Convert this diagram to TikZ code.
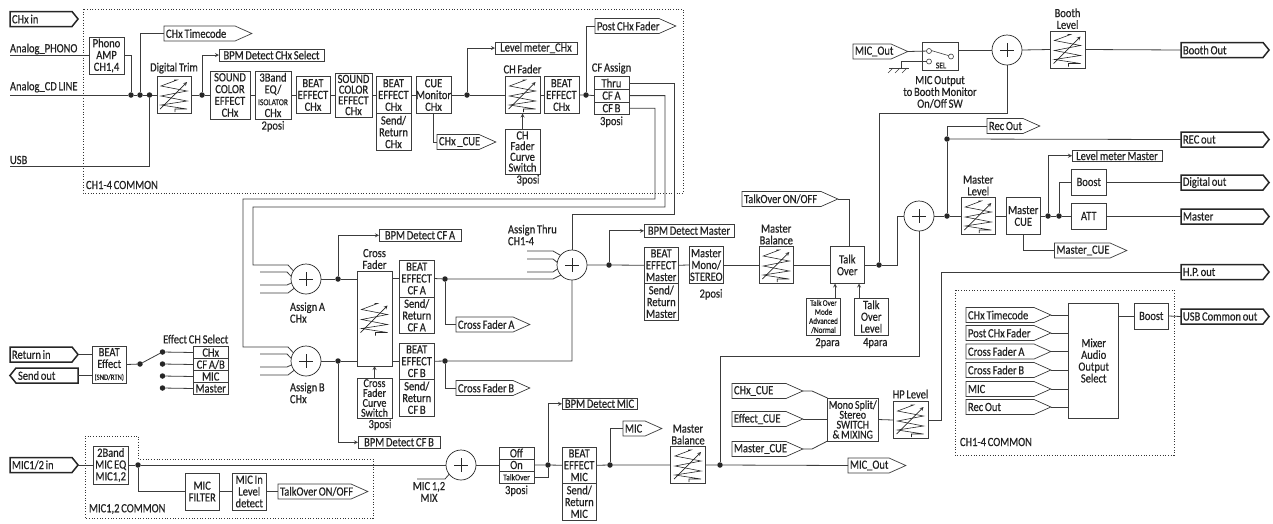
\documentclass[tikz,border=0pt]{standalone}
\usepackage{fontspec}
\setmainfont{Carlito}[FakeStretch=0.84,FakeBold=0.5,WordSpace=0.75]
\usetikzlibrary{positioning,shapes.symbols}
\definecolor{linecol}{HTML}{3C3C3C}
\definecolor{textcol}{HTML}{222222}
\newcommand{\smalltxt}{\fontsize{9}{9.2}\selectfont}
\newcommand{\tightfont}{\fontsize{12.5}{10.7}\selectfont}
\newcommand{\tighterfont}{\fontsize{12}{9.9}\selectfont}
\newcommand{\minifont}{\fontsize{8.6}{9}\selectfont}

\begin{document}
\begin{tikzpicture}[x=1pt,y=-1pt,
every node/.style={font=\fontsize{12.5}{11.8}\selectfont, text=textcol, inner sep=0pt, outer sep=0pt, align=center},
blockbox/.style={rectangle, draw=linecol, line width=0.8pt, anchor=north west},
wh/.style 2 args={minimum width=#1pt, minimum height=#2pt},
noflow/.style={execute at begin node={\spaceskip=0pt\relax\xspaceskip=0pt\relax\hbox to 0pt\bgroup}, execute at end node={\hss\egroup}},
tagout/.style={signal, signal to=east, signal from=nowhere, signal pointer angle=48, draw=linecol, line width=0.7pt, anchor=west, minimum height=15pt, inner xsep=2pt, align=left, text width=#1pt-21pt, noflow},
tagbold/.style={signal, signal to=east, signal from=nowhere, signal pointer angle=102, draw=black!85, line width=1.5pt, anchor=west, minimum height=15pt, inner xsep=2pt, align=left, text width=#1pt-10pt, noflow},
tagback/.style={signal, signal to=west, signal from=nowhere, signal pointer angle=102, draw=black!85, line width=1.5pt, anchor=east, minimum height=15pt, inner xsep=2pt, align=left, text width=#1pt-10pt, noflow},
junct/.style={circle, fill=black!85, minimum size=5.5pt},
contact/.style={circle, draw=linecol, line width=0.6pt, fill=white, minimum size=5pt},
sumnode/.style={circle, draw=black!85, line width=0.7pt, minimum size=30pt, path picture={
  \draw[line width=0.7pt, black!85] (path picture bounding box.center) ++(-7,0) -- ++(14,0) ++(-7,-7) -- ++(0,14);}},
wire/.style={draw=linecol, line width=0.8pt},
wirearrow/.style={draw=linecol, line width=0.8pt, -stealth},
dotbox/.style={draw=black!80, line width=0.7pt, dotted},
pics/fadersym/.style={code={
  \draw[black!85, line width=0.6pt] (0,-15) -- (3,-15) -- (-13,-9) -- (13,-4) -- (-13,1) -- (13,6) -- (-13,10) -- (13,14) -- (1,14) -- (1,17);
  \draw[black!85, line width=0.7pt, -stealth] (-14,14) -- (13,-13);
}}
]
\useasboundingbox (0,0) rectangle (1273,523);

%Common areas
\draw[dotbox] (83,9) rectangle (683,193);
\draw[dotbox] (955,290) rectangle (1174,455);
\draw[dotbox] (85,436) -- (138.5,436) -- (138.5,459) -- (373,459) -- (373,518) -- (85,518) -- cycle;
\node[anchor=west] (commona) at (86,185) {CH1-4 COMMON};
\node[anchor=west] (commonb) at (960,442) {CH1-4 COMMON};
\node[anchor=west] (commonc) at (89,509) {MIC1,2 COMMON};

%Channel strip
\node[tagbold=68] (chin) at (10,19) {CHx in};
\node[anchor=west] (phonotxt) at (10,49) {Analog\_PHONO};
\node[anchor=west] (cdtxt) at (10,87) {Analog\_CD LINE};
\node[anchor=west] (usbtxt) at (10,160) {USB};
\coordinate (phonostart) at (10,55.5);
\coordinate (cdstart) at (10,95);
\coordinate (usbstart) at (10,166);
\node[blockbox, wh={35}{37}] (phono) at (89,37) {Phono\\AMP\\CH1,4};
\node[junct] (dota) at (131,95) {};
\node[junct] (dotb) at (140,95) {};
\node[junct] (dotc) at (149.5,95) {};
\node[tagout=88] (tctag) at (164,33.5) {CHx Timecode};
\node[blockbox, wh={34}{37}] (trim) at (157,76.5) {};
\pic at (trim.center) {fadersym};
\node[above=3pt of trim] (trimtxt) {Digital Trim};
\node[junct] (dotd) at (202,95) {};
\node[blockbox, wh={105}{12}] (bpmsel) at (219,49) {BPM Detect CHx Select};
\node[blockbox, wh={40}{48}] (colora) at (210,71) {SOUND\\COLOR\\EFFECT\\CHx};
\node[blockbox, wh={36}{48}] (eq) at (255,71) {3Band\\EQ/\\{\smalltxt ISOLATOR}\\CHx};
\node[below=2pt of eq] (eqpos) {2posi};
\node[blockbox, wh={34}{37}] (beata) at (296,76.5) {BEAT\\EFFECT\\CHx};
\node[blockbox, wh={37}{44}, font=\tightfont] (colorb) at (335,73) {SOUND\\COLOR\\EFFECT\\CHx};
\node[blockbox, wh={35}{37}] (beatb) at (376,76.5) {BEAT\\EFFECT\\CHx};
\node[blockbox, wh={35}{37}, below=0pt of beatb] (sendb) {Send/\\Return\\CHx};
\node[blockbox, wh={34}{37}] (cue) at (416,76.5) {CUE\\Monitor\\CHx};
\node[junct] (dote) at (467,95) {};
\node[blockbox, wh={82}{12}] (meter) at (495,42) {Level meter\_CHx};
\node[tagout=59] (cuetag) at (437,142) {CHx \_CUE};
\node[blockbox, wh={35}{37}] (chfader) at (505,76.5) {};
\pic at (chfader.center) {fadersym};
\node[above=3pt of chfader] (chfadertxt) {CH Fader};
\node[blockbox, wh={35}{45}, font=\tightfont] (chcurve) at (505,129) {CH\\Fader\\Curve\\Switch};
\node[anchor=north] (chcurvepos) at (528,175) {3posi};
\node[blockbox, wh={35}{37}] (beatc) at (544,76.5) {BEAT\\EFFECT\\CHx};
\node[junct] (dotf) at (586,95) {};
\node[tagout=81] (posttag) at (595,26) {Post CHx Fader};
\node[blockbox, wh={35}{12.6}] (cfthru) at (594,76.7) {Thru};
\node[blockbox, wh={35}{12.6}, below=0pt of cfthru] (cfa) {CF A};
\node[blockbox, wh={35}{12.6}, below=0pt of cfa] (cfb) {CF B};
\node[above=3pt of cfthru] (cftxt) {CF Assign};
\node[below=2pt of cfb] (cfpos) {3posi};

\draw[wire] (phonostart) -- (phono.west);
\draw[wire] (phono.east) -| (dota);
\draw[wire] (cdstart) -- (dota) -- (dotb) -- (dotc) -- (trim.west);
\draw[wire] (dotb) |- (tctag.west);
\draw[wire] (usbstart) -| (dotc);
\draw[wire] (trim.east) -- (dotd) -- (colora.west);
\draw[wirearrow] (dotd) |- (bpmsel.west);
\draw[wire] (colora.east) -- (eq.west);
\draw[wire] (eq.east) -- (beata.west);
\draw[wire] (beata.east) -- (colorb.west);
\draw[wire] (colorb.east) -- (beatb.west);
\draw[wire] (beatb.east) -- (cue.west);
\draw[wire] (cue.east) -- (dote) -- (chfader.west);
\draw[wirearrow] (dote) |- (meter.west);
\draw[wire] (cue.south) |- (cuetag.west);
\draw[wire] (chfader.east) -- (beatc.west);
\draw[wire] (beatc.east) -- (dotf) -- (cfa.west);
\draw[wire] (dotf) |- (posttag.west);
\draw[wirearrow] (chcurve.north) -- (chfader.south);

%Cross fader section
\node[sumnode] (suma) at (306,279) {};
\node[sumnode] (sumb) at (306,361) {};
\node[sumnode] (sumt) at (572,265) {};
\node[anchor=west, align=left] (sumatxt) at (290,312.5) {Assign A\\CHx};
\node[anchor=west, align=left] (sumbtxt) at (290,393) {Assign B\\CHx};
\node[anchor=west, align=left] (sumttxt) at (508,235) {Assign Thru\\CH1-4};
\node[junct] (dotg) at (338,279) {};
\node[junct] (doth) at (338,361) {};
\node[blockbox, wh={82}{12.5}] (bpmcfa) at (379,229) {BPM Detect CF A};
\node[blockbox, wh={82}{12.5}] (bpmcfb) at (358,436) {BPM Detect CF B};
\node[blockbox, wh={35}{95}] (xfader) at (357,271) {};
\pic at (xfader.center) {fadersym};
\node[above=2pt of xfader] (xfadertxt) {Cross\\Fader};
\node[blockbox, wh={35}{40}, font=\tighterfont] (xcurve) at (357,378) {Cross\\Fader\\Curve\\Switch};
\node[anchor=north] (xcurvepos) at (380,419.5) {3posi};
\node[blockbox, wh={34.5}{37}] (beatcfa) at (399.5,260) {BEAT\\EFFECT\\CF A};
\node[blockbox, wh={34.5}{36.5}, below=0pt of beatcfa] (sendcfa) {Send/\\Return\\CF A};
\node[blockbox, wh={34.5}{36.5}] (beatcfb) at (399.5,343) {BEAT\\EFFECT\\CF B};
\node[blockbox, wh={34.5}{36.5}, below=0pt of beatcfb] (sendcfb) {Send/\\Return\\CF B};
\node[junct] (doti) at (445,279) {};
\node[junct] (dotj) at (445,361) {};
\node[tagout=74] (xatag) at (456,324.5) {Cross Fader A};
\node[tagout=74] (xbtag) at (456,388) {Cross Fader B};
\coordinate (sumain) at (260,272);
\coordinate (sumaio) at (260,285);
\coordinate (sumaip) at (260,293);
\coordinate (sumbin) at (260,354);
\coordinate (sumbio) at (260,367);
\coordinate (sumbip) at (260,375);
\coordinate (sumtin) at (527,251);
\coordinate (sumtio) at (527,259);
\coordinate (sumtip) at (527,272);

\draw[wire] (cfthru.east) -| (674,214) -| (sumt.north);
\draw[wire] (cfa.east) -| (665,207) -| (253,265) -- (288,265) -- (suma.147);
\draw[wire] (cfb.east) -| (655,199) -| (243,347) -- (288,347) -- (sumb.147);
\draw[wire] (sumain) -- (287,272) -- (suma.170);
\draw[wire] (sumaio) -- (287,285) -- (suma.195);
\draw[wire] (sumaip) -- (288,293) -- (suma.218);
\draw[wire] (sumbin) -- (287,354) -- (sumb.170);
\draw[wire] (sumbio) -- (287,367) -- (sumb.195);
\draw[wire] (sumbip) -- (288,375) -- (sumb.218);
\draw[wire] (suma.east) -- (dotg) -- (dotg -| xfader.west);
\draw[wire] (sumb.east) -- (doth) -- (doth -| xfader.west);
\draw[wirearrow] (dotg) |- (bpmcfa.west);
\draw[wirearrow] (doth) |- (bpmcfb.west);
\draw[wirearrow] (xcurve.north) -- (xfader.south);
\draw[wire] (beatcfa.west -| xfader.east) -- (beatcfa.west);
\draw[wire] (beatcfb.west -| xfader.east) -- (beatcfb.west);
\draw[wire] (beatcfa.east) -- (doti) -- (553,279) -- (sumt.222);
\draw[wire] (beatcfb.east) -- (dotj) -| (sumt.south);
\draw[wire] (doti) |- (xatag.west);
\draw[wire] (dotj) |- (xbtag.west);
\draw[wire] (sumtin) -- (553,251) -- (sumt.140);
\draw[wire] (sumtio) -- (553,259) -- (sumt.170);
\draw[wire] (sumtip) -- (553,272) -- (sumt.195);

%Effect select
\node[tagbold=68] (retin) at (10,354.5) {Return in};
\node[tagback=68] (sendout) at (78,375.5) {Send out};
\node[blockbox, wh={34.5}{37}] (fxbox) at (92,346) {BEAT\\Effect\\{\fontsize{8}{9}\selectfont (SND/RTN)}};
\node[junct] (dotk) at (140,364) {};
\node[junct] (sela) at (162.5,352) {};
\node[junct] (selb) at (162.5,364) {};
\node[junct] (selc) at (162.5,376) {};
\node[junct] (seld) at (162.5,388) {};
\node[blockbox, wh={34.5}{12}] (chxsel) at (193.5,346.5) {CHx};
\node[blockbox, wh={34.5}{12}, below=0pt of chxsel] (cfsel) {CF A/B};
\node[blockbox, wh={34.5}{12}, below=0pt of cfsel] (micsel) {MIC};
\node[blockbox, wh={34.5}{12}, below=0pt of micsel] (mastersel) {Master};
\node[above=3pt of chxsel, xshift=-15pt] (seltxt) {Effect CH Select};

\draw[wire] (retin.east) -- (retin.east -| fxbox.west);
\draw[wire] (sendout.east) -- (sendout.east -| fxbox.west);
\draw[wire] (fxbox.east) -- (dotk);
\draw[wire] (dotk) -- (sela);
\draw[wire] (sela) -- (chxsel.west);
\draw[wire] (selb) -- (cfsel.west);
\draw[wire] (selc) -- (micsel.west);
\draw[wire] (seld) -- (mastersel.west);

%Mic section
\node[tagbold=68] (micin) at (10,465) {MIC1/2 in};
\node[blockbox, wh={34.5}{38}] (miceq) at (93.5,446) {2Band\\MIC EQ\\MIC1,2};
\node[junct] (dotm) at (138,465) {};
\node[blockbox, wh={34.5}{37}] (micfilter) at (185,473) {MIC\\FILTER};
\node[blockbox, wh={34.5}{37}] (miclevel) at (232,473) {MIC In\\Level\\detect};
\node[tagout=90] (talktaga) at (278,491.5) {TalkOver ON/OFF};
\node[sumnode] (summic) at (461,465) {};
\node[anchor=north] (summictxt) at (429,482) {MIC 1,2\\MIX};
\coordinate (micmixin) at (417,479);
\node[blockbox, wh={35}{12}] (swoff) at (499,447) {Off};
\node[blockbox, wh={35}{12}, below=0pt of swoff] (swon) {On};
\node[blockbox, wh={35}{12.5}, below=0pt of swon] (swtalk) {\smalltxt TalkOver};
\node[below=2pt of swtalk] (swpos) {3posi};
\node[junct] (dotn) at (548,465) {};
\node[blockbox, wh={75}{11.5}] (bpmmic) at (562,398) {BPM Detect MIC};
\node[blockbox, wh={34.5}{36.5}] (beatmic) at (562,447) {BEAT\\EFFECT\\MIC};
\node[blockbox, wh={34.5}{36.5}, below=0pt of beatmic] (sendmic) {Send/\\Return\\MIC};
\node[junct] (doto) at (610,465) {};
\node[tagout=39] (mictag) at (623,428.5) {MIC};
\node[blockbox, wh={35}{37}] (balmic) at (670.5,446.5) {};
\pic at (balmic.center) {fadersym};
\node[above=2pt of balmic] (balmictxt) {Master\\Balance};
\node[junct] (dotp) at (720,465) {};
\node[tagout=58] (micouta) at (848,465.5) {MIC\_Out};

\draw[wire] (micin.east) -- (miceq.west);
\draw[wire] (miceq.east) -- (dotm) -- (summic.west);
\draw[wire] (dotm) |- (micfilter.west);
\draw[wire] (micfilter.east) -- (miclevel.west);
\draw[wire] (miclevel.east) -- (talktaga.west);
\draw[wire] (micmixin) -- (445,479) -- (summic.218);
\draw[wire] (summic.east) -- (swon.west);
\draw[wire] (swon.east) -- (dotn) -- (beatmic.west);
\draw[wire] (swtalk.east) -| (dotn);
\draw[wirearrow] (dotn) |- (bpmmic.west);
\draw[wire] (beatmic.east) -- (doto) -- (balmic.west);
\draw[wire] (doto) |- (mictag.west);
\draw[wire] (balmic.east) -- (dotp) -- (micouta.west);

%Master section
\node[junct] (dotq) at (609,265) {};
\node[blockbox, wh={90}{12.5}] (bpmmaster) at (644,224.5) {BPM Detect Master};
\node[blockbox, wh={34.5}{36.5}] (beatmaster) at (644,247) {BEAT\\EFFECT\\Master};
\node[blockbox, wh={34.5}{36.5}, below=0pt of beatmaster] (sendmaster) {Send/\\Return\\Master};
\node[blockbox, wh={34.5}{37}] (mono) at (689,246.5) {Master\\Mono/\\STEREO};
\node[anchor=north] (monopos) at (711,289) {2posi};
\node[blockbox, wh={34.5}{37}] (balance) at (759,246.5) {};
\pic at (balance.center) {fadersym};
\node[above=2pt of balance] (balancetxt) {Master\\Balance};
\node[blockbox, wh={34.5}{37}] (talk) at (830,246.5) {Talk\\Over};
\node[tagout=96, anchor=west] (talktagb) at (742,199) {TalkOver ON/OFF};
\node[blockbox, wh={34}{37}, font=\minifont] (talkmode) at (806.5,298) {Talk Over\\Mode\\Advanced\\/Normal};
\node[blockbox, wh={34.5}{37}] (talklevel) at (854,298) {Talk\\Over\\Level};
\node[below=3pt of talkmode, xshift=4pt] (talkmodepos) {2para};
\node[below=3pt of talklevel, xshift=4pt] (talklevelpos) {4para};
\node[junct] (dotr) at (879,265) {};
\node[sumnode] (summaster) at (919,216) {};
\node[junct] (dots) at (947,216) {};
\node[junct] (dott) at (947,139) {};
\node[blockbox, wh={34.5}{37}] (masterlevel) at (961,197.5) {};
\pic at (masterlevel.center) {fadersym};
\node[above=2pt of masterlevel] (masterleveltxt) {Master\\Level};
\node[blockbox, wh={34.5}{37}] (mastercue) at (1006,197.5) {Master\\CUE};
\node[junct] (dotu) at (1048,216) {};
\node[junct] (dotv) at (1059,216) {};
\node[blockbox, wh={90}{11.5}] (metermaster) at (1072,150) {Level meter Master};
\node[blockbox, wh={34.5}{26}] (boosta) at (1071.5,169) {Boost};
\node[blockbox, wh={34.5}{26}] (att) at (1071.5,203) {ATT};
\node[tagout=72.5] (cuemaster) at (1054.5,250.5) {Master\_CUE};
\node[tagout=53] (recouttag) at (987,126) {Rec Out};
\node[tagbold=88] (boothout) at (1181,50) {Booth Out};
\node[tagbold=88] (recout) at (1181,139.5) {REC out};
\node[tagbold=88] (digout) at (1181,182.5) {Digital out};
\node[tagbold=88] (masterout) at (1181,216.5) {Master};
\node[tagbold=88] (hpout) at (1181,272) {H.P. out};
\node[tagbold=88] (usbout) at (1181,316.5) {USB Common out};

\draw[wire] (sumt.east) -- (dotq) -- (beatmaster.west);
\draw[wirearrow] (dotq) |- (bpmmaster.west);
\draw[wire] (beatmaster.east) -- (mono.west);
\draw[wire] (mono.east) -- (balance.west);
\draw[wire] (balance.east) -- (talk.west);
\draw[wire] (talktagb.east) -| (849,246.5);
\draw[wirearrow] (835,298) -- (835,283.5);
\draw[wirearrow] (859,298) -- (859,283.5);
\draw[wire] (talk.east) -- (dotr) -- (897,265) |- (summaster.west);
\draw[wire] (summaster.east) -- (dots) -- (masterlevel.west);
\draw[wire] (dots) -- (dott) |- (recouttag.west);
\draw[wire] (dott) -- (recout.west);
\draw[wire] (masterlevel.east) -- (mastercue.west);
\draw[wire] (mastercue.east) -- (dotu) -- (dotv) -- (att.west);
\draw[wirearrow] (dotu) |- (metermaster.west);
\draw[wire] (dotv) |- (boosta.west);
\draw[wire] (boosta.east) -- (boosta.east -| digout.west);
\draw[wire] (att.east) -- (att.east -| masterout.west);
\draw[wire] (mastercue.south) |- (cuemaster.west);
\draw[wire] (summaster.south) |- (720,356) -- (dotp);

%Booth section
\node[tagout=55] (micoutb) at (853,51.5) {MIC\_Out};
\node[blockbox, wh={36}{28.5}] (selbox) at (922,42) {};
\node[contact] (cona) at (929,51) {};
\node[contact] (conb) at (929,61.5) {};
\node[contact] (conc) at (951,56.5) {};
\node[anchor=center] (seltag) at (941,65.5) {\smalltxt SEL};
\node[anchor=north] (seltxt2) at (940,76) {MIC Output\\to Booth Monitor\\On/Off SW};
\node[sumnode] (sumbooth) at (1007,50) {};
\node[blockbox, wh={35}{37}] (boothlevel) at (1050,31) {};
\pic at (boothlevel.center) {fadersym};
\node[above=2pt of boothlevel] (boothtxt) {Booth\\Level};
\coordinate (gnd) at (901,68);

\draw[wire] (micoutb.east) -- (cona);
\draw[wire] (conb) -| (gnd);
\draw[wire, line width=0.6pt] (889,68) -- (909,68);
\draw[wire, line width=0.6pt] (893,68) -- (888,73) (900,68) -- (895,73) (907,68) -- (902,73);
\draw[wire, line width=0.6pt] (cona.10) -- (conc.160);
\draw[wire] (selbox.east |- sumbooth.west) -- (sumbooth.west);
\draw[wire] (dotr) |- (1007,113) -- (sumbooth.south);
\draw[wire] (sumbooth.east) -- (boothlevel.west);
\draw[wire] (boothlevel.east) -- (boothout.west);

%Headphone section
\node[tagout=71] (chcue) at (732,391) {CHx\_CUE};
\node[tagout=71] (fxcue) at (732,419) {Effect\_CUE};
\node[tagout=71] (mastercueb) at (732,449) {Master\_CUE};
\node[blockbox, wh={50.5}{43}, font=\tighterfont] (monosplit) at (827.5,398) {Mono Split/\\Stereo\\SWITCH\\\& MIXING};
\node[blockbox, wh={35}{37}] (hplevel) at (893,401.5) {};
\pic at (hplevel.center) {fadersym};
\node[above=3pt of hplevel] (hptxt) {HP Level};

\draw[wire] (chcue.east) -- (812,391) -- (monosplit.north west);
\draw[wire] (fxcue.east) -- (fxcue.east -| monosplit.west);
\draw[wire] (mastercueb.east) -- (812,449) -- (monosplit.south west);
\draw[wire] (monosplit.east) -- (hplevel.west);
\draw[wire] (hplevel.east) -| (941,272) -- (hpout.west);

%Output select
\node[tagout=85] (seltc) at (966,315) {CHx Timecode};
\node[tagout=85] (selpost) at (966,333) {Post CHx Fader};
\node[tagout=85] (selxa) at (966,351.5) {Cross Fader A};
\node[tagout=85] (selxb) at (966,370) {Cross Fader B};
\node[tagout=85] (selmic) at (966,389) {MIC};
\node[tagout=85] (selrec) at (966,407) {Rec Out};
\node[blockbox, wh={50}{115}] (mixer) at (1068.7,303) {Mixer\\Audio\\Output\\Select};
\node[blockbox, wh={34.5}{26}] (boostb) at (1134,303) {Boost};

\draw[wire] (seltc.east) -- (seltc.east -| mixer.west);
\draw[wire] (selpost.east) -- (selpost.east -| mixer.west);
\draw[wire] (selxa.east) -- (selxa.east -| mixer.west);
\draw[wire] (selxb.east) -- (selxb.east -| mixer.west);
\draw[wire] (selmic.east) -- (selmic.east -| mixer.west);
\draw[wire] (selrec.east) -- (selrec.east -| mixer.west);
\draw[wire] (boostb.west -| mixer.east) -- (boostb.west);
\draw[wire] (boostb.east) -- (usbout.west);

\end{tikzpicture}
\end{document}
